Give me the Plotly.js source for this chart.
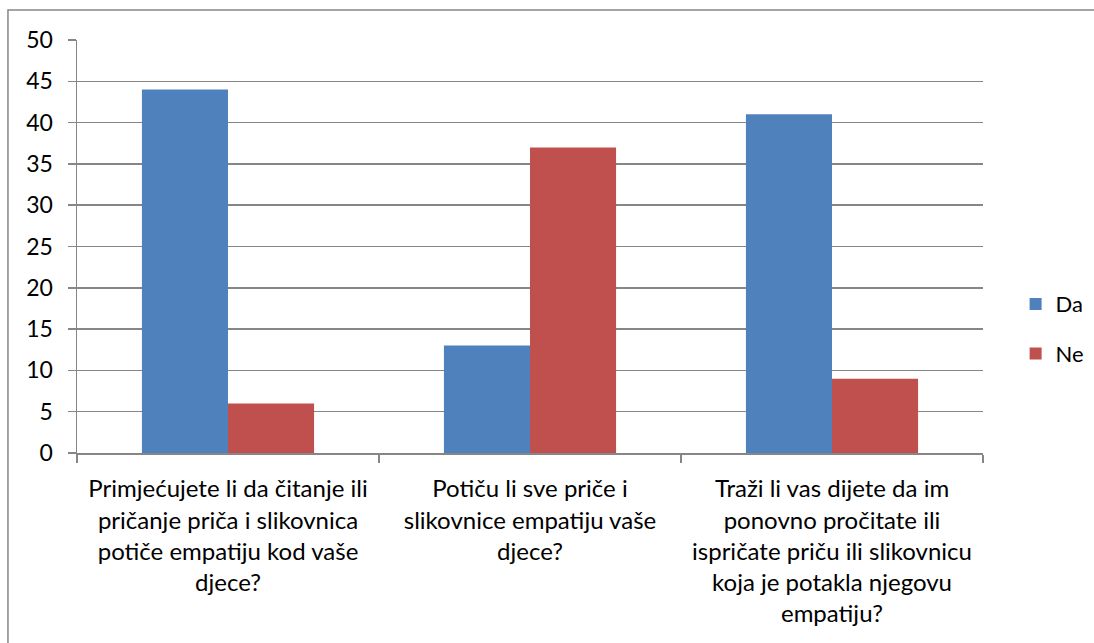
<!DOCTYPE html>
<html><head><meta charset="utf-8">
<script src="https://cdn.plot.ly/plotly-3.0.1.min.js"></script>
<style>html,body{margin:0;padding:0;background:#fff}</style>
</head><body>
<div id="chart" style="width:1094px;height:643px"></div>
<script>
const categories = [
  "Primjećujete li da čitanje ili<br>pričanje priča i slikovnica<br>potiče empatiju kod vaše<br>djece?",
  "Potiču li sve priče i<br>slikovnice empatiju vaše<br>djece?",
  "Traži li vas dijete da im<br>ponovno pročitate ili<br>ispričate priču ili slikovnicu<br>koja je potakla njegovu<br>empatiju?"
];
const daValues = [44, 13, 41];
const neValues = [6, 37, 9];
const yTicks = [0, 5, 10, 15, 20, 25, 30, 35, 40, 45, 50];

const font = "Lato, 'Open Sans', 'DejaVu Sans', sans-serif";
const data = [
  {type: 'bar', name: 'Da', x: categories, y: daValues, marker: {color: '#4F81BD'}, legendgroup: 'a'},
  {type: 'bar', name: 'Ne', x: categories, y: neValues, marker: {color: '#C0504D'}, legendgroup: 'b'}
];
const layout = {
  width: 1094, height: 643,
  margin: {l: 77, r: 111, t: 40, b: 190, autoexpand: false},
  paper_bgcolor: '#fff', plot_bgcolor: '#fff',
  barmode: 'group', bargap: 0.43, bargroupgap: 0,
  font: {family: font, size: 22, color: '#000'},
  xaxis: {
    type: 'category', tickson: 'boundaries', ticks: 'outside', ticklen: 8,
    tickcolor: '#868686', tickwidth: 1.5, showgrid: false,
    showline: true, linecolor: '#868686', linewidth: 1.5,
    tickfont: {family: font, size: 24}, automargin: false, ticklabelstandoff: 14
  },
  yaxis: {
    range: [0, 50], tickvals: yTicks, ticktext: yTicks.map(String),
    ticks: 'outside', ticklen: 8, tickcolor: '#868686', tickwidth: 1.5,
    showgrid: true, gridcolor: '#868686', gridwidth: 1.5,
    showline: true, linecolor: '#868686', linewidth: 1.5,
    zeroline: false, tickfont: {family: font, size: 23}, automargin: false,
    ticklabelstandoff: 10
  },
  legend: {
    x: 1.036, y: 0.30, xanchor: 'left', yanchor: 'middle',
    font: {family: font, size: 22}, traceorder: 'grouped', tracegroupgap: 18, itemwidth: 30
  },
  shapes: [{
    type: 'rect', xref: 'paper', yref: 'paper',
    x0: -0.0762, x1: 1.2, y0: -0.5, y1: 1.0726,
    line: {color: '#878787', width: 1.5}, fillcolor: 'rgba(0,0,0,0)', layer: 'below'
  }]
};
Plotly.newPlot('chart', data, layout, {displayModeBar: false, staticPlot: true});
</script>
</body></html>
